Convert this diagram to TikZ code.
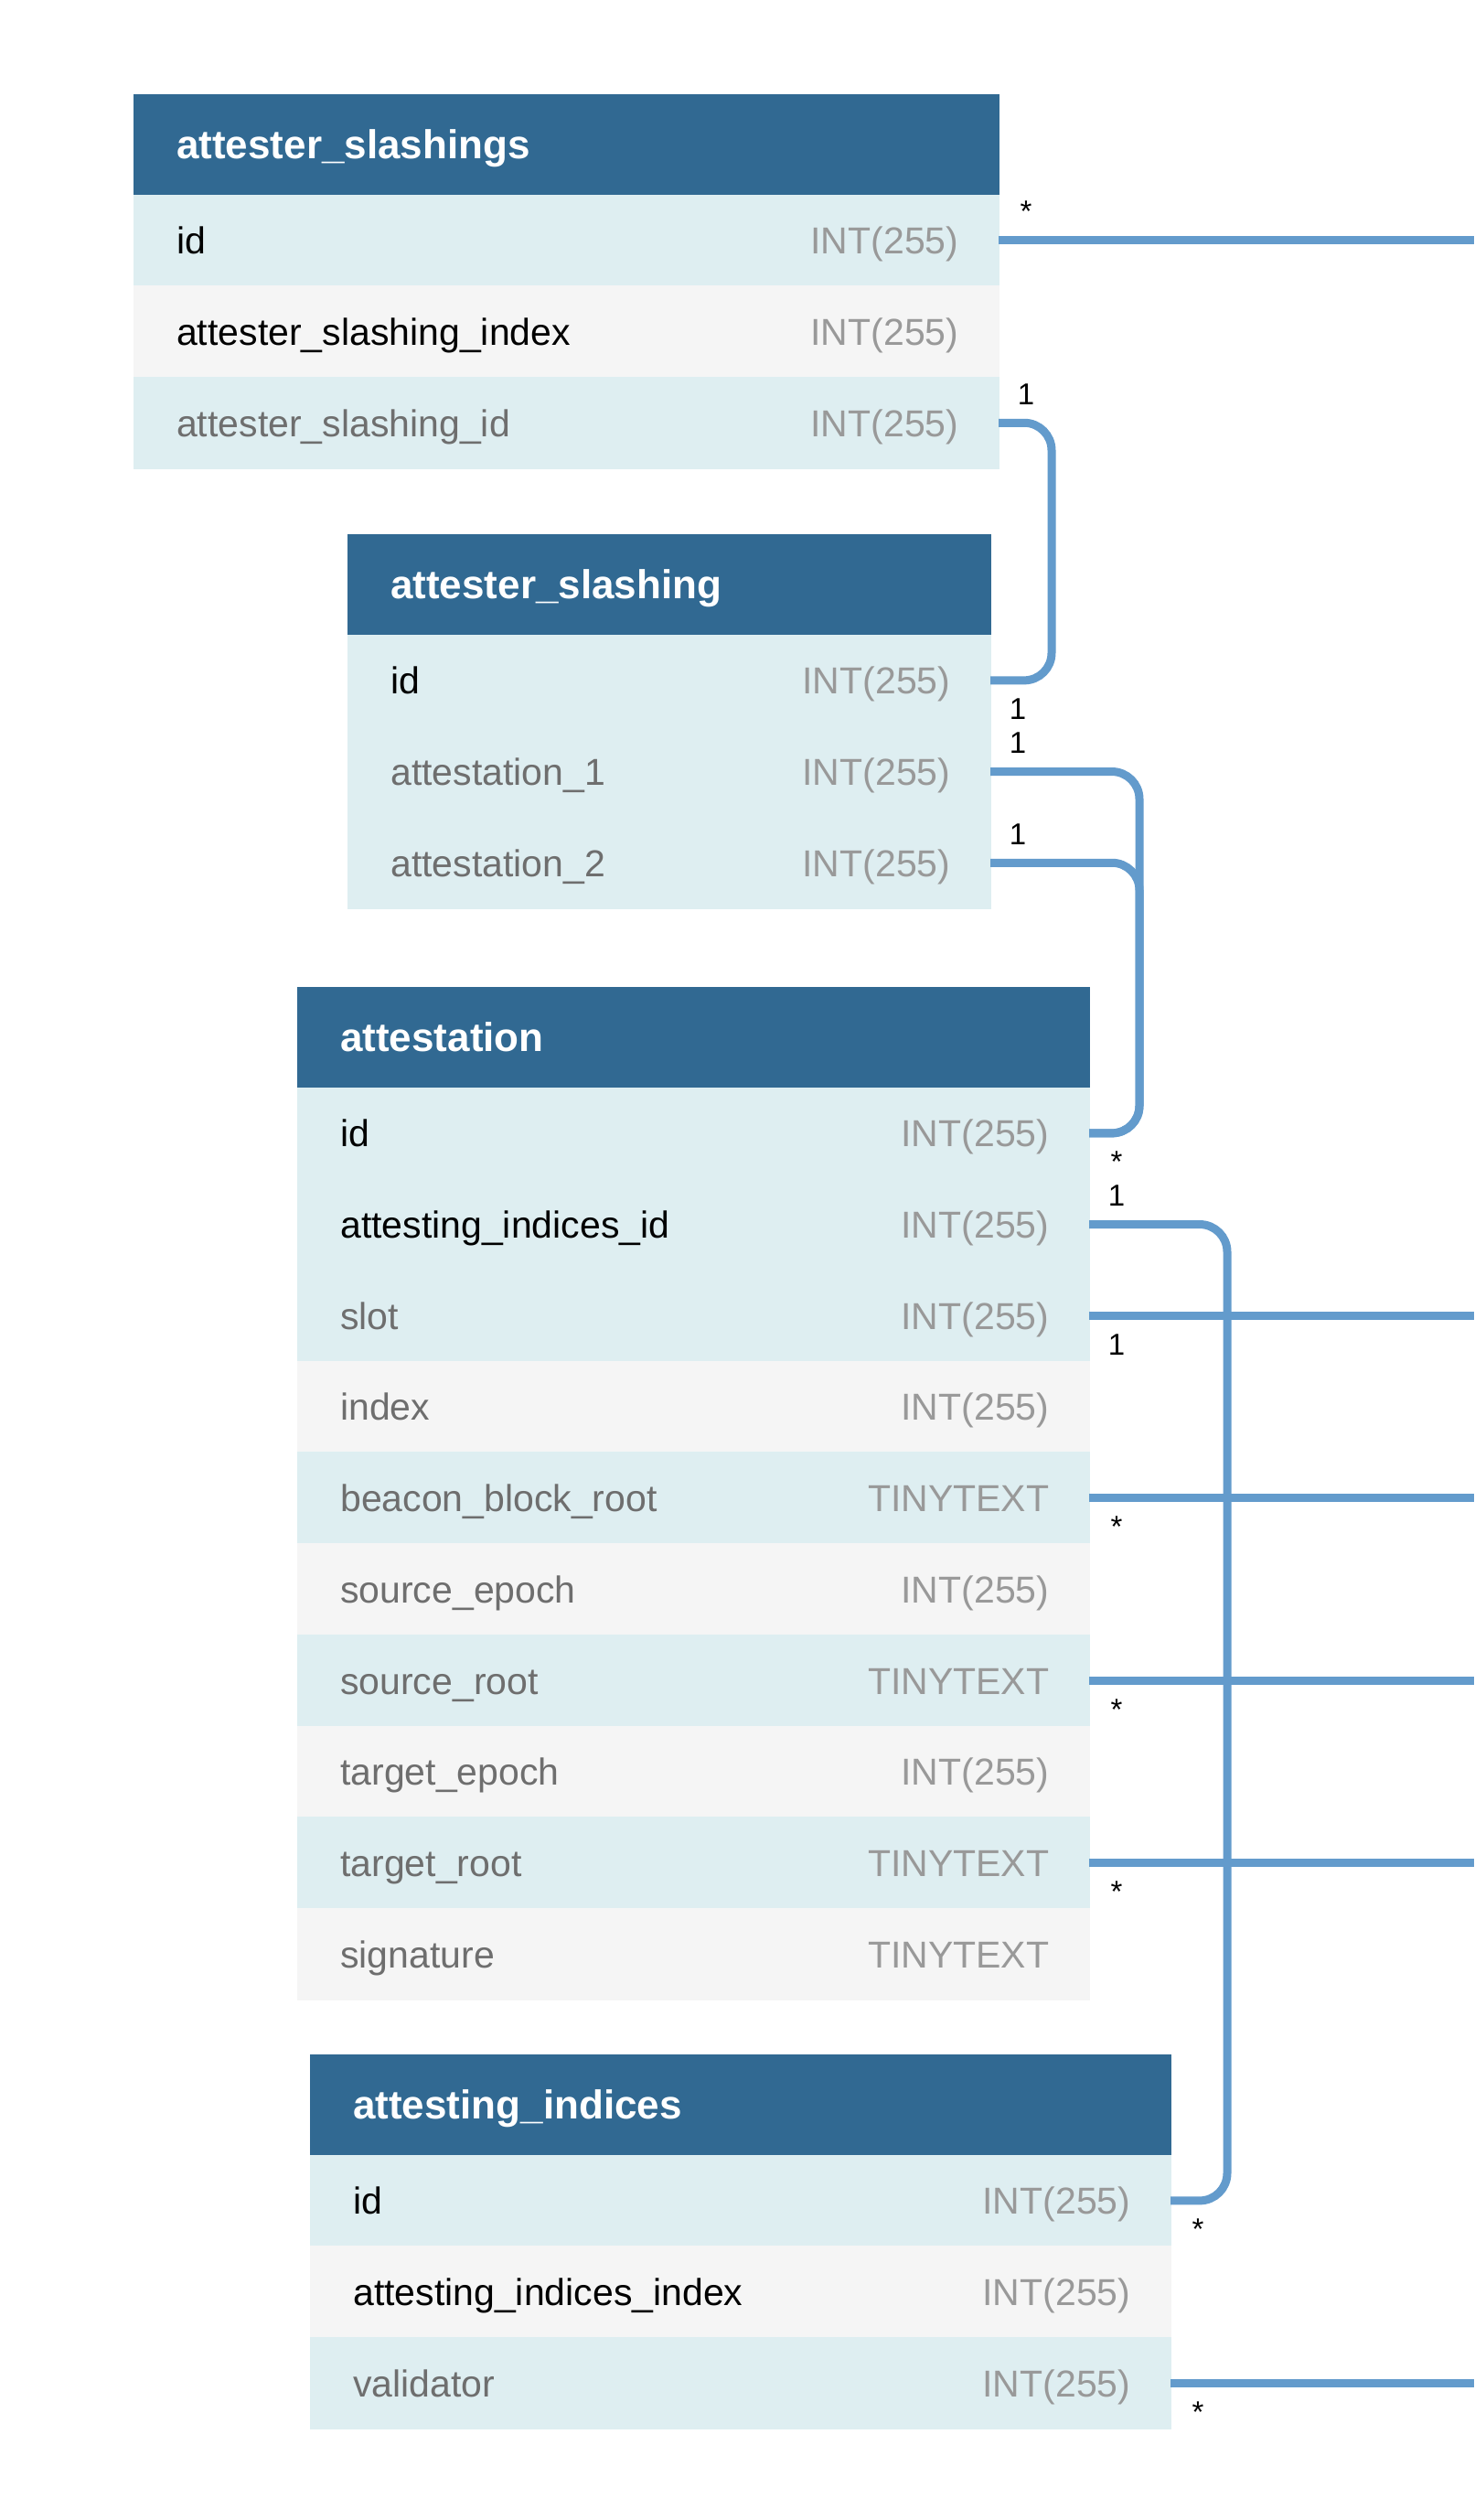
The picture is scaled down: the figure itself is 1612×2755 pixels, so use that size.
\documentclass[tikz,border=0pt]{standalone}
\usepackage{fontspec}
\setmainfont{Liberation Sans}
\definecolor{hdr}{HTML}{316992}
\definecolor{rowb}{HTML}{DEEEF1}
\definecolor{rowg}{HTML}{F5F5F5}
\definecolor{lnk}{HTML}{639BCC}
\definecolor{typ}{HTML}{999999}
\definecolor{fgrey}{HTML}{6E6E6E}
\tikzset{
 hdrbox/.style={fill=hdr, draw=hdr, line width=0.8pt, inner sep=0pt, outer sep=0pt, minimum height=110pt, anchor=north west},
 rowbox/.style={inner sep=0pt, outer sep=0pt, line width=0.8pt, minimum height=99.7pt, anchor=north west},
 hdrtxt/.style={text=white, font=\fontsize{44}{52}\selectfont\bfseries, inner sep=0pt, anchor=base west},
 fldk/.style={text=black, font=\fontsize{41}{49}\selectfont, inner sep=0pt, anchor=base west},
 fldg/.style={text=fgrey, font=\fontsize{41}{49}\selectfont, inner sep=0pt, anchor=base west},
 typtxt/.style={text=typ, font=\fontsize{41}{49}\selectfont, inner sep=0pt, anchor=base east},
 link/.style={draw=lnk, line width=9pt, rounded corners=30pt},
 card/.style={font=\fontsize{33}{38}\selectfont, text=black, inner sep=0pt, anchor=base},
}
\newcommand\dbhead[5]{%
 \node[hdrbox, minimum width=#4pt] (#1) at (#2,#3) {};
 \node[hdrtxt] (#1-txt) at ([xshift=47pt,yshift=-15pt]#1.west) {#5};}
\newcommand\dbrow[7]{%
 \node[rowbox, fill=#4, draw=#4, minimum width=#3pt] (#1) at (#2.south west) {};
 \node[#5] (#1-f) at ([xshift=47pt,yshift=-15pt]#1.west) {#6};
 \node[typtxt] (#1-t) at ([xshift=-43.5pt,yshift=-15pt]#1.east) {#7};}
\newcommand\cardup[3]{\node[card] (#1) at ([xshift=30pt,yshift=20pt]#2.east) {#3};}
\newcommand\carddn[3]{\node[card] (#1) at ([xshift=30pt,yshift=-43pt]#2.east) {#3};}
\begin{document}
\begin{tikzpicture}[x=1pt,y=-1pt]
\useasboundingbox[fill=white] (0,0) rectangle (1612,2755);
% attester_slashings
\dbhead{A}{146}{103}{946}{attester\_slashings}
\dbrow{A1}{A}{946}{rowb}{fldk}{id}{INT(255)}
\dbrow{A2}{A1}{946}{rowg}{fldk}{attester\_slashing\_index}{INT(255)}
\dbrow{A3}{A2}{946}{rowb}{fldg}{attester\_slashing\_id}{INT(255)}
% attester_slashing
\dbhead{B}{380}{584}{703}{attester\_slashing}
\dbrow{B1}{B}{703}{rowb}{fldk}{id}{INT(255)}
\dbrow{B2}{B1}{703}{rowb}{fldg}{attestation\_1}{INT(255)}
\dbrow{B3}{B2}{703}{rowb}{fldg}{attestation\_2}{INT(255)}
% attestation
\dbhead{C}{325}{1079}{866}{attestation}
\dbrow{C1}{C}{866}{rowb}{fldk}{id}{INT(255)}
\dbrow{C2}{C1}{866}{rowb}{fldk}{attesting\_indices\_id}{INT(255)}
\dbrow{C3}{C2}{866}{rowb}{fldg}{slot}{INT(255)}
\dbrow{C4}{C3}{866}{rowg}{fldg}{index}{INT(255)}
\dbrow{C5}{C4}{866}{rowb}{fldg}{beacon\_block\_root}{TINYTEXT}
\dbrow{C6}{C5}{866}{rowg}{fldg}{source\_epoch}{INT(255)}
\dbrow{C7}{C6}{866}{rowb}{fldg}{source\_root}{TINYTEXT}
\dbrow{C8}{C7}{866}{rowg}{fldg}{target\_epoch}{INT(255)}
\dbrow{C9}{C8}{866}{rowb}{fldg}{target\_root}{TINYTEXT}
\dbrow{C10}{C9}{866}{rowg}{fldg}{signature}{TINYTEXT}
% attesting_indices
\dbhead{D}{339}{2246}{941}{attesting\_indices}
\dbrow{D1}{D}{941}{rowb}{fldk}{id}{INT(255)}
\dbrow{D2}{D1}{941}{rowg}{fldk}{attesting\_indices\_index}{INT(255)}
\dbrow{D3}{D2}{941}{rowb}{fldg}{validator}{INT(255)}
% routing coordinates
\coordinate (edgeR) at (1612,0);
\coordinate (xA) at (1150,0);
\coordinate (xB) at (1246,0);
\coordinate (xC) at (1342,0);
% connectors
\draw[link] (A1.east) -- (A1.east -| edgeR);
\draw[link] (A3.east) -- (A3.east -| xA) -- (B1.east -| xA) -- (B1.east);
\draw[link] (B2.east) -- (B2.east -| xB) -- (C1.east -| xB) -- (C1.east);
\draw[link] (B3.east) -- (B3.east -| xB) -- (C1.east -| xB) -- (C1.east);
\draw[link] (C2.east) -- (C2.east -| xC) -- (D1.east -| xC) -- (D1.east);
\draw[link] (C3.east) -- (C3.east -| edgeR);
\draw[link] (C5.east) -- (C5.east -| edgeR);
\draw[link] (C7.east) -- (C7.east -| edgeR);
\draw[link] (C9.east) -- (C9.east -| edgeR);
\draw[link] (D3.east) -- (D3.east -| edgeR);
% cardinalities
\cardup{kA1}{A1}{*}
\cardup{kA3}{A3}{1}
\carddn{kB1}{B1}{1}
\cardup{kB2}{B2}{1}
\cardup{kB3}{B3}{1}
\carddn{kC1}{C1}{*}
\cardup{kC2}{C2}{1}
\carddn{kC3}{C3}{1}
\carddn{kC5}{C5}{*}
\carddn{kC7}{C7}{*}
\carddn{kC9}{C9}{*}
\carddn{kD1}{D1}{*}
\carddn{kD3}{D3}{*}
\end{tikzpicture}
\end{document}
